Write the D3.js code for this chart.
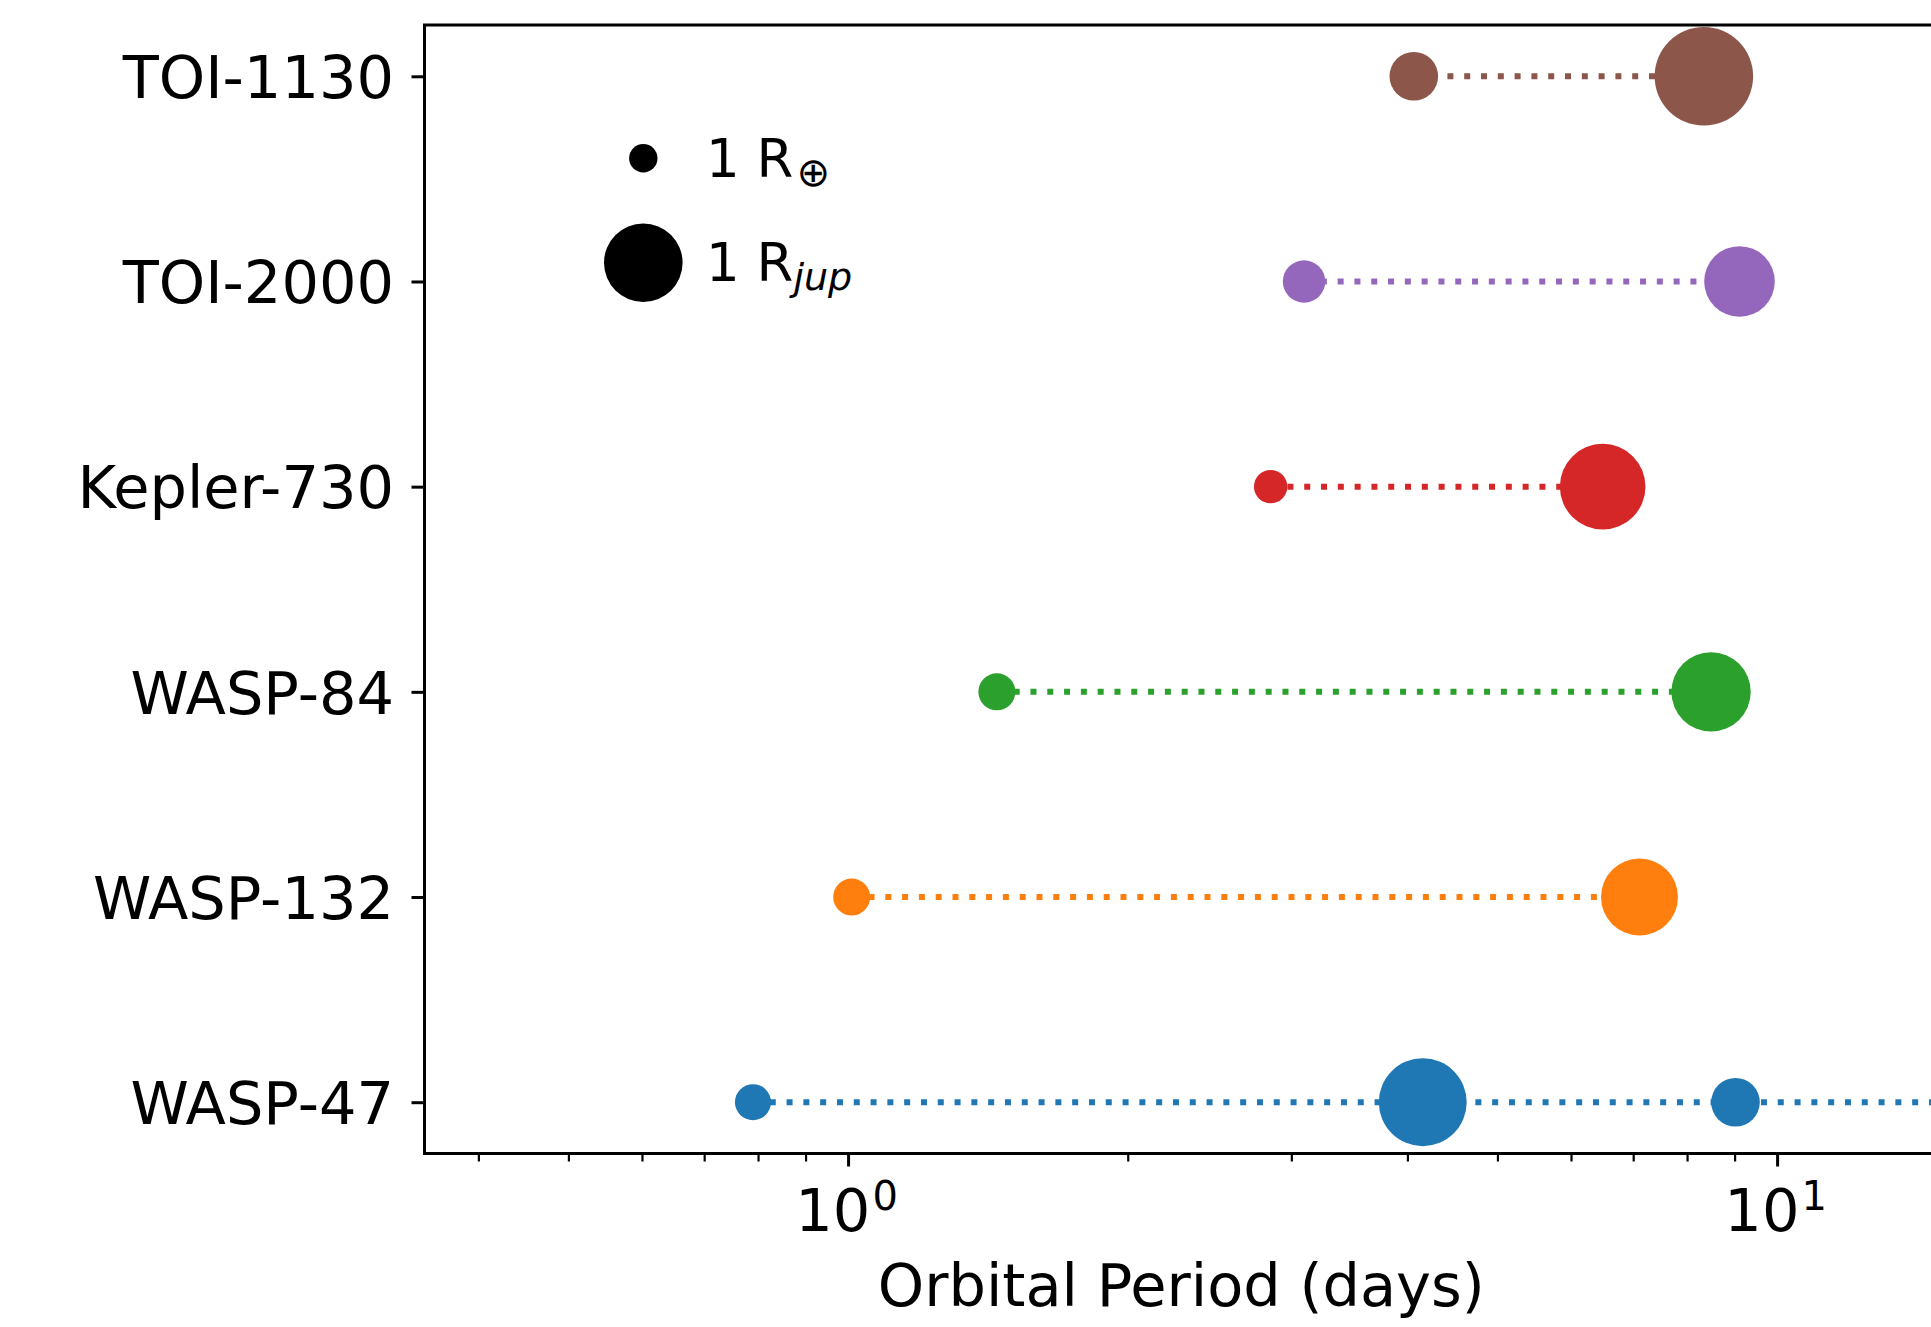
<!DOCTYPE html>
<html lang="en">
<head>
  <meta charset="utf-8">
  <title>Orbital periods</title>
  <script src="https://d3js.org/d3.v7.min.js"></script>
  <style>
    body { margin: 0; background: #fff; }
    text { font-family: "DejaVu Sans", sans-serif; fill: #000; }
  </style>
</head>
<body>
<div id="chart"></div>
<script>

  // Systems, bottom row first
  var systems = ["WASP-47", "WASP-132", "WASP-84", "Kepler-730", "TOI-2000", "TOI-1130"];

  // Orbital periods (days) of the planets in each system
  var periods = [
    [0.790, 4.155, 9.02, 588.5],
    [1.009, 7.11],
    [1.446, 8.49],
    [2.85, 6.49],
    [3.096, 9.11],
    [4.064, 8.34]
  ];

  // Planet radii (Earth radii)
  var radii = [
    [1.84, 14.3, 3.78, 12],
    [1.97, 10.7],
    [1.97, 11.45],
    [1.52, 13.5],
    [2.74, 8.84],
    [3.78, 18.3]
  ];

  // Size legend
  var legendValues = [1, 11.2];
  var legendSubs = ["\u2295", "jup"];

  var colors = ["#1f77b4", "#ff7f0e", "#2ca02c", "#d62728", "#9467bd", "#8c564b"];

  var W = 1931, H = 1327;
  var margin = {top: 25, left: 424.5, bottom: 1153.5, right: 1938};

  var svg = d3.select("#chart").append("svg")
    .attr("width", W)
    .attr("height", H);

  var x = d3.scaleLog()
    .domain([0.35, 14.9])
    .range([margin.left, margin.right]);

  var y = d3.scaleLinear()
    .domain([-0.25, 5.25])
    .range([margin.bottom, margin.top]);

  var size = d3.scaleSqrt()
    .domain([1, 11.2])
    .range([14.2, 39.3]);

  svg.append("clipPath").attr("id", "plotclip")
    .append("rect")
      .attr("x", margin.left)
      .attr("y", margin.top)
      .attr("width", margin.right - margin.left)
      .attr("height", margin.bottom - margin.top);

  var plot = svg.append("g").attr("clip-path", "url(#plotclip)");

  // dotted connectors
  var line = d3.line()
    .x(function(d) { return x(d); })
    .y(0);

  var rows = plot.selectAll("g.row")
    .data(systems).enter().append("g")
      .attr("class", "row")
      .attr("transform", function(d, i) { return "translate(0," + y(i) + ")"; });

  rows.append("path")
    .attr("d", function(d, i) { return line(periods[i]); })
    .attr("fill", "none")
    .attr("stroke", function(d, i) { return colors[i]; })
    .attr("stroke-width", 6)
    .attr("stroke-dasharray", "6,10.8");

  rows.selectAll("circle")
    .data(function(d, i) {
      return periods[i].map(function(p, j) { return {p: p, r: radii[i][j], c: colors[i]}; });
    })
    .enter().append("circle")
      .attr("cx", function(d) { return x(d.p); })
      .attr("cy", 0)
      .attr("r", function(d) { return size(d.r); })
      .attr("fill", function(d) { return d.c; });

  // x axis
  var majors = [1, 10];
  var minors = x.ticks().filter(function(t) { return majors.indexOf(t) < 0; });

  var xg = svg.append("g").attr("transform", "translate(0," + margin.bottom + ")");
  xg.call(d3.axisBottom(x).tickValues(minors).tickSize(8).tickFormat(""))
    .call(function(g) { g.select(".domain").remove(); })
    .selectAll("line").attr("stroke", "#000").attr("stroke-width", 2.2);

  var xg2 = svg.append("g").attr("transform", "translate(0," + margin.bottom + ")");
  xg2.call(d3.axisBottom(x).tickValues(majors).tickSize(13).tickPadding(14))
    .call(function(g) { g.select(".domain").remove(); });
  xg2.selectAll("line").attr("stroke", "#000").attr("stroke-width", 3);
  xg2.selectAll(".tick text").each(function(d) {
    var t = d3.select(this);
    t.text("").attr("y", 77).attr("dy", 0).attr("font-size", 59).attr("dx", -2);
    t.append("tspan").text("10");
    t.append("tspan").attr("dy", -21).attr("dx", 2).attr("font-size", 40).text(Math.round(Math.log10(d)));
  });

  svg.append("text")
    .attr("x", (margin.left + margin.right) / 2)
    .attr("y", 1306)
    .attr("text-anchor", "middle")
    .attr("font-size", 59)
    .text("Orbital Period (days)");

  // y axis
  var yg = svg.append("g").attr("transform", "translate(" + margin.left + ",0)");
  yg.call(d3.axisLeft(y)
      .tickValues(d3.range(systems.length))
      .tickFormat(function(i) { return systems[i]; })
      .tickSize(13).tickPadding(17.5))
    .call(function(g) { g.select(".domain").remove(); });
  yg.selectAll("line").attr("stroke", "#000").attr("stroke-width", 3);
  yg.selectAll("text").attr("font-size", 59).attr("dy", "0.36em");

  // spines
  svg.append("rect")
    .attr("x", margin.left)
    .attr("y", margin.top)
    .attr("width", margin.right - margin.left)
    .attr("height", margin.bottom - margin.top)
    .attr("fill", "none")
    .attr("stroke", "#000")
    .attr("stroke-width", 3);

  // size legend
  var leg = svg.append("g");
  var legY = [158.3, 262.7];
  legendValues.forEach(function(v, i) {
    leg.append("circle")
      .attr("cx", 643.3)
      .attr("cy", legY[i])
      .attr("r", size(v))
      .attr("fill", "#000");
    var t = leg.append("text")
      .attr("x", 706)
      .attr("y", legY[i] + 18.5)
      .attr("font-size", 53);
    t.append("tspan").text("1 R");
    t.append("tspan")
      .attr("dy", 9)
      .attr("dx", i == 0 ? 3 : 0)
      .attr("font-size", i == 0 ? 40 : 38)
      .attr("font-style", i == 0 ? "normal" : "italic")
      .text(legendSubs[i]);
  });

</script>
</body>
</html>
